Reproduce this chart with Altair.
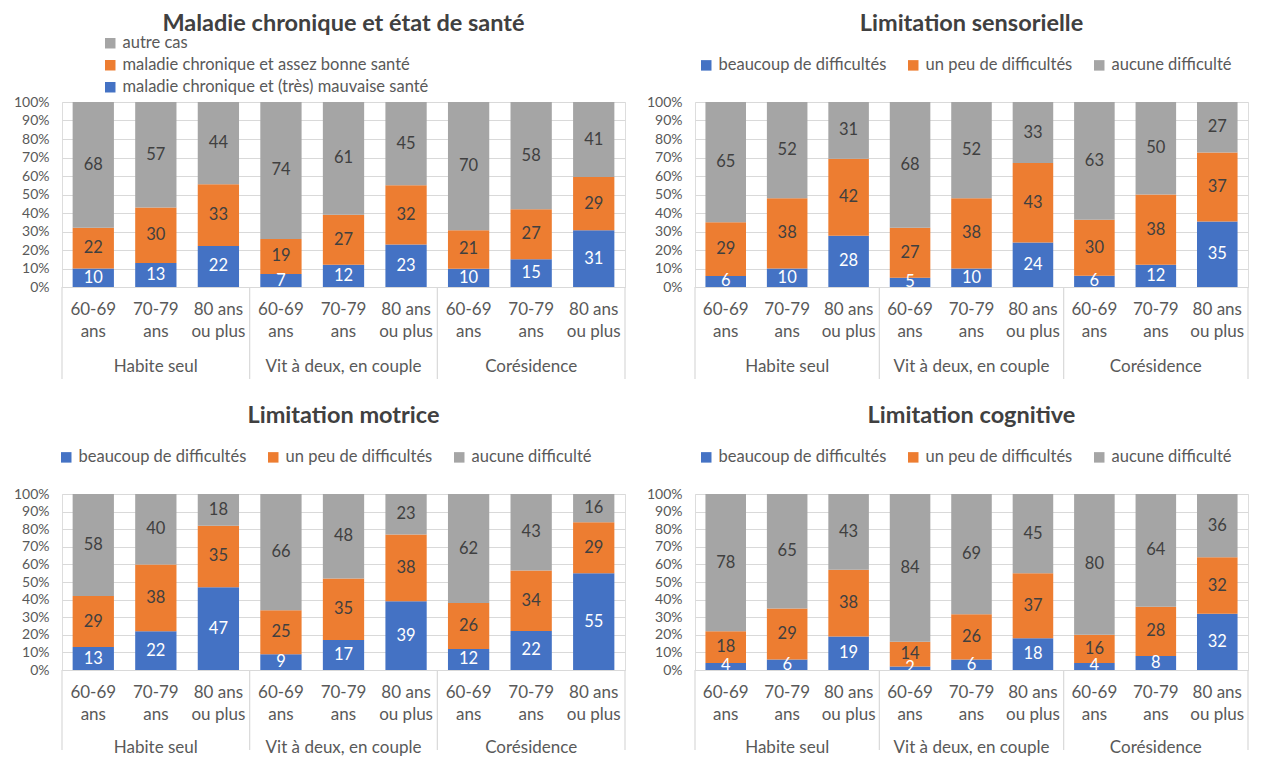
import altair as alt
import pandas as pd

FONT = "Lato"
GRID = "#d9d9d9"
LABEL = "#595959"
DARK = "#404040"
BLUE = "#4472C4"
ORANGE = "#ED7D31"
GREY = "#A5A5A5"

groups = ["Habite seul", "Vit à deux, en couple", "Corésidence"]
ages = ["60-69 ans", "70-79 ans", "80 ans ou plus"]
age_line1 = ["60-69", "70-79", "80 ans"]
age_line2 = ["ans", "ans", "ou plus"]
y_ticks = [0, 0.1, 0.2, 0.3, 0.4, 0.5, 0.6, 0.7, 0.8, 0.9, 1.0]

# series listed bottom -> top of each stacked bar
series_health = ["maladie chronique et (très) mauvaise santé",
                 "maladie chronique et assez bonne santé",
                 "autre cas"]
series_lim = ["beaucoup de difficultés", "un peu de difficultés", "aucune difficulté"]

# 9 bars: Habite seul (60-69, 70-79, 80+), Vit à deux (...), Corésidence (...)
health_bad = [10, 13, 22, 7, 12, 23, 10, 15, 31]
health_fair = [22, 30, 33, 19, 27, 32, 21, 27, 29]
health_other = [68, 57, 44, 74, 61, 45, 70, 58, 41]

sens_much = [6, 10, 28, 5, 10, 24, 6, 12, 35]
sens_some = [29, 38, 42, 27, 38, 43, 30, 38, 37]
sens_none = [65, 52, 31, 68, 52, 33, 63, 50, 27]

mot_much = [13, 22, 47, 9, 17, 39, 12, 22, 55]
mot_some = [29, 38, 35, 25, 35, 38, 26, 34, 29]
mot_none = [58, 40, 18, 66, 48, 23, 62, 43, 16]

cog_much = [4, 6, 19, 2, 6, 18, 4, 8, 32]
cog_some = [18, 29, 38, 14, 26, 37, 16, 28, 32]
cog_none = [78, 65, 43, 84, 69, 45, 80, 64, 36]

keys = [f"{g}|{a}" for g in groups for a in ages]

y_axis = alt.Axis(format=".0%", values=y_ticks, grid=True, gridColor=GRID,
                  domain=False, ticks=False, labelColor=LABEL,
                  labelFontSize=14, labelFont=FONT, labelPadding=13,
                  labelOverlap=False, labelFlush=False, title=None)
y_scale = alt.Scale(domain=[0, 1])


def panel(title, series, cols, legend_domain, legend_range, direction,
          legend_x, legend_y, title_offset, width, height, line_len, grp_off):
    rows = []
    for si, (s, vals) in enumerate(zip(series, cols)):
        for ki, v in enumerate(vals):
            rows.append({"key": keys[ki], "serie": s, "order": si, "value": v})
    df = pd.DataFrame(rows)

    xs = alt.Scale(paddingInner=0, paddingOuter=0)
    x = alt.X("key:N", sort=keys, scale=xs, axis=None)

    base = alt.Chart(df).transform_stack(
        stack="value", groupby=["key"], as_=["y0", "y1"], offset="normalize",
        sort=[alt.SortField(field="order", order="ascending")]
    ).transform_calculate(mid="(datum.y0 + datum.y1) / 2")

    bars = base.mark_bar(width=alt.RelativeBandSize(0.66)).encode(
        x=x,
        y=alt.Y("y0:Q", scale=y_scale, axis=y_axis),
        y2="y1:Q",
        color=alt.Color("serie:N",
                        scale=alt.Scale(domain=legend_domain, range=legend_range),
                        legend=alt.Legend(title=None, orient="none", direction=direction,
                                          legendX=legend_x, legendY=legend_y,
                                          symbolType="square", symbolSize=110,
                                          symbolStrokeWidth=0, labelLimit=0,
                                          labelFont=FONT, labelFontSize=16.5,
                                          labelColor=LABEL, columnPadding=18,
                                          rowPadding=5, labelOffset=4)),
    )

    values = base.mark_text(clip=True, font=FONT, fontSize=16.5).encode(
        x=x,
        y=alt.Y("mid:Q", scale=y_scale, axis=y_axis),
        text="value:Q",
        color=alt.condition("datum.order == 0", alt.value("white"), alt.value(DARK)),
    )

    age_df = pd.DataFrame({"key": keys,
                           "l1": [age_line1[i % 3] for i in range(9)],
                           "l2": [age_line2[i % 3] for i in range(9)]})
    age1 = alt.Chart(age_df).mark_text(font=FONT, fontSize=17, color=LABEL).encode(
        x=x, y=alt.value(height + 23), text="l1:N")
    age2 = alt.Chart(age_df).mark_text(font=FONT, fontSize=17, color=LABEL).encode(
        x=x, y=alt.value(height + 45), text="l2:N")

    grp_df = pd.DataFrame({"key": [f"{g}|{ages[1]}" for g in groups], "g": groups})
    grp = alt.Chart(grp_df).mark_text(font=FONT, fontSize=17, color=LABEL).encode(
        x=x, y=alt.value(height + grp_off), text="g:N")

    sep_df = pd.DataFrame({"key": [f"{g}|{ages[0]}" for g in groups]})
    sep = alt.Chart(sep_df).mark_rule(color=GRID, strokeWidth=1.2).encode(
        x=alt.X("key:N", sort=keys, scale=xs, axis=None, bandPosition=0),
        y=alt.value(height), y2=alt.value(height + line_len))
    end_df = pd.DataFrame({"key": [keys[-1]]})
    sep_end = alt.Chart(end_df).mark_rule(color=GRID, strokeWidth=1.2).encode(
        x=alt.X("key:N", sort=keys, scale=xs, axis=None, bandPosition=1),
        y=alt.value(height), y2=alt.value(height + line_len))

    return alt.layer(bars, values, age1, age2, grp, sep, sep_end).properties(
        width=width, height=height,
        title=alt.TitleParams(title, font=FONT, fontSize=23.5, fontWeight="bold",
                              color=DARK, anchor="middle", offset=title_offset),
    )


p1 = panel("Maladie chronique et état de santé", series_health,
           [health_bad, health_fair, health_other],
           [series_health[2], series_health[1], series_health[0]],
           [GREY, ORANGE, BLUE], "vertical", 40, -67, 0, 563, 185, 92, 80)
p2 = panel("Limitation sensorielle", series_lim, [sens_much, sens_some, sens_none],
           series_lim, [BLUE, ORANGE, GREY], "horizontal", 3, -45, 22, 553, 185, 92, 80)
p3 = panel("Limitation motrice", series_lim, [mot_much, mot_some, mot_none],
           series_lim, [BLUE, ORANGE, GREY], "horizontal", -4, -45, 22, 563, 176, 80, 78)
p4 = panel("Limitation cognitive", series_lim, [cog_much, cog_some, cog_none],
           series_lim, [BLUE, ORANGE, GREY], "horizontal", 3, -45, 22, 553, 176, 80, 78)

top = alt.hconcat(p1, p2, spacing=18).resolve_scale(color="independent").resolve_legend(color="independent")
bottom = alt.hconcat(p3, p4, spacing=18).resolve_scale(color="independent").resolve_legend(color="independent")

chart = alt.vconcat(top, bottom, spacing=22).resolve_scale(
    color="independent").resolve_legend(color="independent").properties(
    padding={"left": 4, "top": 3, "right": 0, "bottom": 0}
).configure_view(strokeWidth=0).configure(background="white")

chart.save("out.html", embed_options={"renderer": "svg", "actions": False})
